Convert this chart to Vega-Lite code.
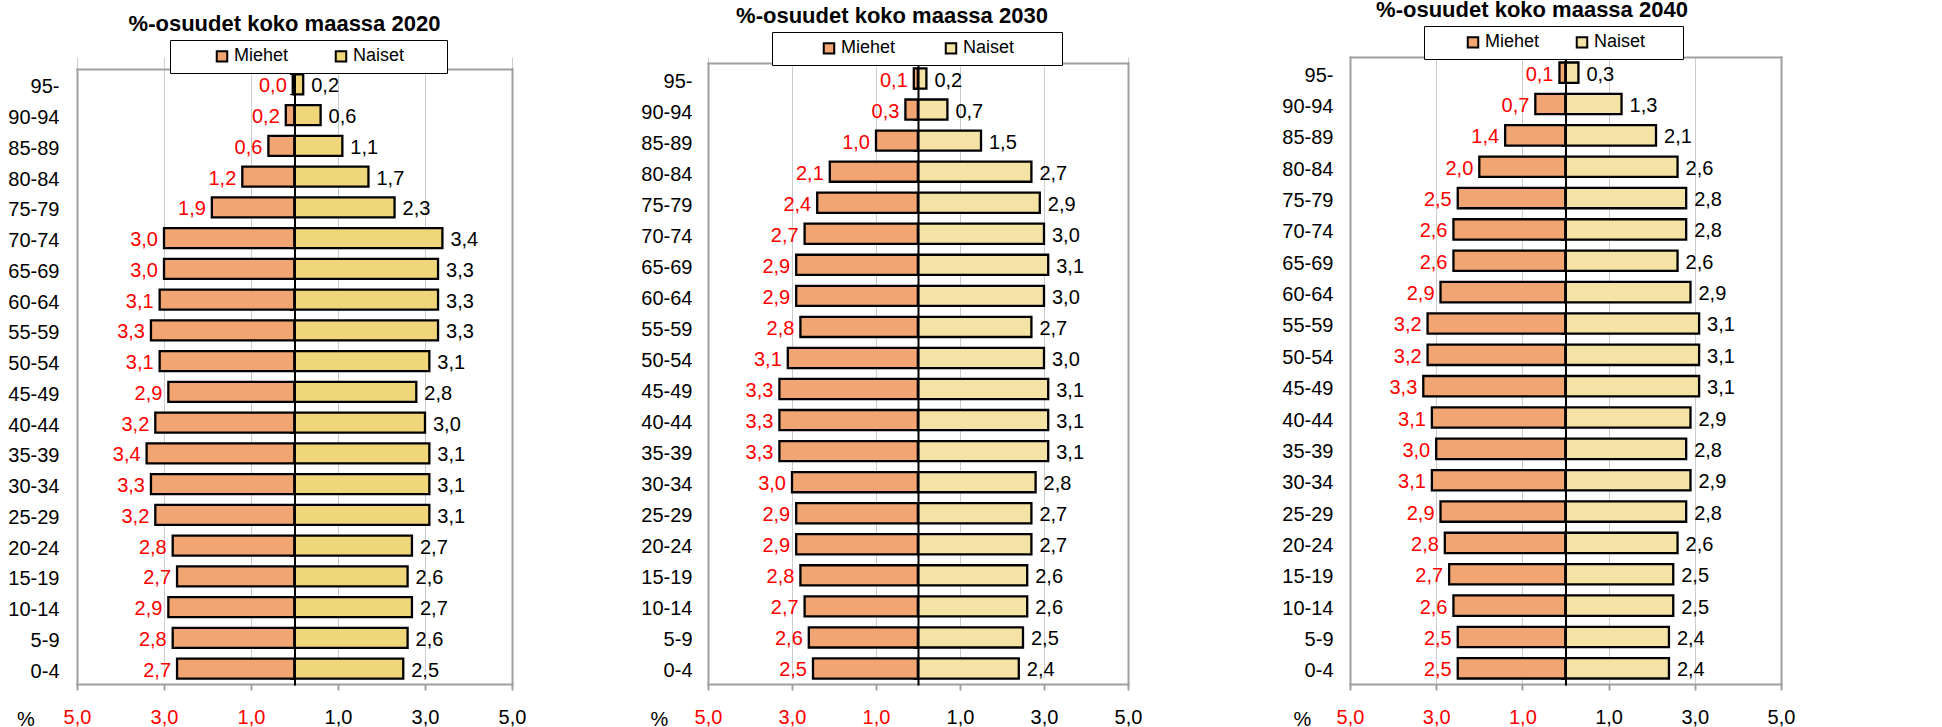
{
  "$schema": "https://vega.github.io/schema/vega-lite/v6.json",
  "padding": {"left": 0, "top": -2, "right": 0, "bottom": 0},
  "background": "white",
  "config": {
    "font": "Liberation Sans",
    "view": {"stroke": null},
    "locale": {"number": {"decimal": ",", "thousands": " ", "grouping": [3], "currency": ["", " €"], "minus": ""}},
    "axisX": {"labelFontSize": 20, "labelPadding": 17, "tickSize": 6, "tickColor": "#a0a0a0", "tickWidth": 2, "domain": true, "domainColor": "#a0a0a0", "domainWidth": 2, "domainCap": "square", "grid": true, "gridColor": "#cccccc", "gridWidth": 1, "titleFontSize": 20, "titleFontWeight": "normal", "titleColor": "black", "titleBaseline": "alphabetic", "titleAlign": "center", "labelFlush": false, "labelOverlap": false},
    "axisY": {"labelFontSize": 20, "labelColor": "black", "ticks": false, "domain": true, "domainColor": "#a0a0a0", "domainWidth": 2, "domainCap": "square", "grid": false, "labelOffset": 3},
    "legend": {"orient": "none", "direction": "horizontal", "labelFontSize": 18, "labelColor": "black", "symbolType": "square", "symbolSize": 110, "symbolStrokeColor": "black", "symbolStrokeWidth": 2, "padding": 7, "strokeColor": "black", "fillColor": "white", "labelOffset": 3, "zindex": 2},
    "title": {"fontSize": 22, "fontWeight": "bold", "color": "black", "anchor": "middle", "frame": "group"}
  },
  "data": {"values": [
    {"v":2020,"ika":"95-","sp":"Miehet","osuus":-0.04},{"v":2020,"ika":"95-","sp":"Naiset","osuus":0.2},
    {"v":2020,"ika":"90-94","sp":"Miehet","osuus":-0.2},{"v":2020,"ika":"90-94","sp":"Naiset","osuus":0.6},
    {"v":2020,"ika":"85-89","sp":"Miehet","osuus":-0.6},{"v":2020,"ika":"85-89","sp":"Naiset","osuus":1.1},
    {"v":2020,"ika":"80-84","sp":"Miehet","osuus":-1.2},{"v":2020,"ika":"80-84","sp":"Naiset","osuus":1.7},
    {"v":2020,"ika":"75-79","sp":"Miehet","osuus":-1.9},{"v":2020,"ika":"75-79","sp":"Naiset","osuus":2.3},
    {"v":2020,"ika":"70-74","sp":"Miehet","osuus":-3.0},{"v":2020,"ika":"70-74","sp":"Naiset","osuus":3.4},
    {"v":2020,"ika":"65-69","sp":"Miehet","osuus":-3.0},{"v":2020,"ika":"65-69","sp":"Naiset","osuus":3.3},
    {"v":2020,"ika":"60-64","sp":"Miehet","osuus":-3.1},{"v":2020,"ika":"60-64","sp":"Naiset","osuus":3.3},
    {"v":2020,"ika":"55-59","sp":"Miehet","osuus":-3.3},{"v":2020,"ika":"55-59","sp":"Naiset","osuus":3.3},
    {"v":2020,"ika":"50-54","sp":"Miehet","osuus":-3.1},{"v":2020,"ika":"50-54","sp":"Naiset","osuus":3.1},
    {"v":2020,"ika":"45-49","sp":"Miehet","osuus":-2.9},{"v":2020,"ika":"45-49","sp":"Naiset","osuus":2.8},
    {"v":2020,"ika":"40-44","sp":"Miehet","osuus":-3.2},{"v":2020,"ika":"40-44","sp":"Naiset","osuus":3.0},
    {"v":2020,"ika":"35-39","sp":"Miehet","osuus":-3.4},{"v":2020,"ika":"35-39","sp":"Naiset","osuus":3.1},
    {"v":2020,"ika":"30-34","sp":"Miehet","osuus":-3.3},{"v":2020,"ika":"30-34","sp":"Naiset","osuus":3.1},
    {"v":2020,"ika":"25-29","sp":"Miehet","osuus":-3.2},{"v":2020,"ika":"25-29","sp":"Naiset","osuus":3.1},
    {"v":2020,"ika":"20-24","sp":"Miehet","osuus":-2.8},{"v":2020,"ika":"20-24","sp":"Naiset","osuus":2.7},
    {"v":2020,"ika":"15-19","sp":"Miehet","osuus":-2.7},{"v":2020,"ika":"15-19","sp":"Naiset","osuus":2.6},
    {"v":2020,"ika":"10-14","sp":"Miehet","osuus":-2.9},{"v":2020,"ika":"10-14","sp":"Naiset","osuus":2.7},
    {"v":2020,"ika":"5-9","sp":"Miehet","osuus":-2.8},{"v":2020,"ika":"5-9","sp":"Naiset","osuus":2.6},
    {"v":2020,"ika":"0-4","sp":"Miehet","osuus":-2.7},{"v":2020,"ika":"0-4","sp":"Naiset","osuus":2.5},
    {"v":2030,"ika":"95-","sp":"Miehet","osuus":-0.1},{"v":2030,"ika":"95-","sp":"Naiset","osuus":0.2},
    {"v":2030,"ika":"90-94","sp":"Miehet","osuus":-0.3},{"v":2030,"ika":"90-94","sp":"Naiset","osuus":0.7},
    {"v":2030,"ika":"85-89","sp":"Miehet","osuus":-1.0},{"v":2030,"ika":"85-89","sp":"Naiset","osuus":1.5},
    {"v":2030,"ika":"80-84","sp":"Miehet","osuus":-2.1},{"v":2030,"ika":"80-84","sp":"Naiset","osuus":2.7},
    {"v":2030,"ika":"75-79","sp":"Miehet","osuus":-2.4},{"v":2030,"ika":"75-79","sp":"Naiset","osuus":2.9},
    {"v":2030,"ika":"70-74","sp":"Miehet","osuus":-2.7},{"v":2030,"ika":"70-74","sp":"Naiset","osuus":3.0},
    {"v":2030,"ika":"65-69","sp":"Miehet","osuus":-2.9},{"v":2030,"ika":"65-69","sp":"Naiset","osuus":3.1},
    {"v":2030,"ika":"60-64","sp":"Miehet","osuus":-2.9},{"v":2030,"ika":"60-64","sp":"Naiset","osuus":3.0},
    {"v":2030,"ika":"55-59","sp":"Miehet","osuus":-2.8},{"v":2030,"ika":"55-59","sp":"Naiset","osuus":2.7},
    {"v":2030,"ika":"50-54","sp":"Miehet","osuus":-3.1},{"v":2030,"ika":"50-54","sp":"Naiset","osuus":3.0},
    {"v":2030,"ika":"45-49","sp":"Miehet","osuus":-3.3},{"v":2030,"ika":"45-49","sp":"Naiset","osuus":3.1},
    {"v":2030,"ika":"40-44","sp":"Miehet","osuus":-3.3},{"v":2030,"ika":"40-44","sp":"Naiset","osuus":3.1},
    {"v":2030,"ika":"35-39","sp":"Miehet","osuus":-3.3},{"v":2030,"ika":"35-39","sp":"Naiset","osuus":3.1},
    {"v":2030,"ika":"30-34","sp":"Miehet","osuus":-3.0},{"v":2030,"ika":"30-34","sp":"Naiset","osuus":2.8},
    {"v":2030,"ika":"25-29","sp":"Miehet","osuus":-2.9},{"v":2030,"ika":"25-29","sp":"Naiset","osuus":2.7},
    {"v":2030,"ika":"20-24","sp":"Miehet","osuus":-2.9},{"v":2030,"ika":"20-24","sp":"Naiset","osuus":2.7},
    {"v":2030,"ika":"15-19","sp":"Miehet","osuus":-2.8},{"v":2030,"ika":"15-19","sp":"Naiset","osuus":2.6},
    {"v":2030,"ika":"10-14","sp":"Miehet","osuus":-2.7},{"v":2030,"ika":"10-14","sp":"Naiset","osuus":2.6},
    {"v":2030,"ika":"5-9","sp":"Miehet","osuus":-2.6},{"v":2030,"ika":"5-9","sp":"Naiset","osuus":2.5},
    {"v":2030,"ika":"0-4","sp":"Miehet","osuus":-2.5},{"v":2030,"ika":"0-4","sp":"Naiset","osuus":2.4},
    {"v":2040,"ika":"95-","sp":"Miehet","osuus":-0.14},{"v":2040,"ika":"95-","sp":"Naiset","osuus":0.3},
    {"v":2040,"ika":"90-94","sp":"Miehet","osuus":-0.7},{"v":2040,"ika":"90-94","sp":"Naiset","osuus":1.3},
    {"v":2040,"ika":"85-89","sp":"Miehet","osuus":-1.4},{"v":2040,"ika":"85-89","sp":"Naiset","osuus":2.1},
    {"v":2040,"ika":"80-84","sp":"Miehet","osuus":-2.0},{"v":2040,"ika":"80-84","sp":"Naiset","osuus":2.6},
    {"v":2040,"ika":"75-79","sp":"Miehet","osuus":-2.5},{"v":2040,"ika":"75-79","sp":"Naiset","osuus":2.8},
    {"v":2040,"ika":"70-74","sp":"Miehet","osuus":-2.6},{"v":2040,"ika":"70-74","sp":"Naiset","osuus":2.8},
    {"v":2040,"ika":"65-69","sp":"Miehet","osuus":-2.6},{"v":2040,"ika":"65-69","sp":"Naiset","osuus":2.6},
    {"v":2040,"ika":"60-64","sp":"Miehet","osuus":-2.9},{"v":2040,"ika":"60-64","sp":"Naiset","osuus":2.9},
    {"v":2040,"ika":"55-59","sp":"Miehet","osuus":-3.2},{"v":2040,"ika":"55-59","sp":"Naiset","osuus":3.1},
    {"v":2040,"ika":"50-54","sp":"Miehet","osuus":-3.2},{"v":2040,"ika":"50-54","sp":"Naiset","osuus":3.1},
    {"v":2040,"ika":"45-49","sp":"Miehet","osuus":-3.3},{"v":2040,"ika":"45-49","sp":"Naiset","osuus":3.1},
    {"v":2040,"ika":"40-44","sp":"Miehet","osuus":-3.1},{"v":2040,"ika":"40-44","sp":"Naiset","osuus":2.9},
    {"v":2040,"ika":"35-39","sp":"Miehet","osuus":-3.0},{"v":2040,"ika":"35-39","sp":"Naiset","osuus":2.8},
    {"v":2040,"ika":"30-34","sp":"Miehet","osuus":-3.1},{"v":2040,"ika":"30-34","sp":"Naiset","osuus":2.9},
    {"v":2040,"ika":"25-29","sp":"Miehet","osuus":-2.9},{"v":2040,"ika":"25-29","sp":"Naiset","osuus":2.8},
    {"v":2040,"ika":"20-24","sp":"Miehet","osuus":-2.8},{"v":2040,"ika":"20-24","sp":"Naiset","osuus":2.6},
    {"v":2040,"ika":"15-19","sp":"Miehet","osuus":-2.7},{"v":2040,"ika":"15-19","sp":"Naiset","osuus":2.5},
    {"v":2040,"ika":"10-14","sp":"Miehet","osuus":-2.6},{"v":2040,"ika":"10-14","sp":"Naiset","osuus":2.5},
    {"v":2040,"ika":"5-9","sp":"Miehet","osuus":-2.5},{"v":2040,"ika":"5-9","sp":"Naiset","osuus":2.4},
    {"v":2040,"ika":"0-4","sp":"Miehet","osuus":-2.5},{"v":2040,"ika":"0-4","sp":"Naiset","osuus":2.4}
  ]},
  "spacing": 0,
  "resolve": {"scale": {"color": "independent", "x": "independent", "y": "independent"}, "legend": {"color": "independent"}},
  "hconcat": [
    {
      "width": 435, "height": 627,
      "title": {"text": "%-osuudet koko maassa 2020", "dx": -10, "offset": 4},
      "transform": [{"filter": "datum.v == 2020"}],
      "layer": [
        {"mark": {"type": "bar", "stroke": "black", "strokeWidth": 2.3},
         "encoding": {
           "x": {"field": "osuus", "type": "quantitative", "scale": {"domain": [-5, 5], "nice": false, "zero": false},
                 "axis": {"values": [-5, -3, -1, 1, 3, 5], "format": ".1f", "title": "%", "titleX": -51.5, "titleY": 41,
                          "labelColor": {"condition": {"test": "datum.value < 0", "value": "#ff0000"}, "value": "#000000"}}},
           "y": {"field": "ika", "type": "nominal", "sort": ["95-","90-94","85-89","80-84","75-79","70-74","65-69","60-64","55-59","50-54","45-49","40-44","35-39","30-34","25-29","20-24","15-19","10-14","5-9","0-4"],
                 "scale": {"range": [12, 627], "paddingInner": 0.35, "paddingOuter": 0.175},
                 "axis": {"title": null, "labelPadding": 18, "minExtent": 77, "maxExtent": 77}},
           "color": {"field": "sp", "type": "nominal", "scale": {"domain": ["Miehet", "Naiset"], "range": ["#F0A572", "#F0D67A"]},
                     "legend": {"title": null, "orient": "none", "legendX": 93, "legendY": -17, "symbolOffset": 36, "columnPadding": 7,
                                "labelExpr": "datum.label == 'Naiset' ? 'Naiset       \u200b' : datum.label"}}
         }},
        {"transform": [{"filter": "datum.sp == 'Miehet'"}],
         "mark": {"type": "text", "align": "right", "baseline": "middle", "dx": -6, "dy": 2, "fontSize": 20, "color": "#ff0000"},
         "encoding": {
           "x": {"field": "osuus", "type": "quantitative",
                 "axis": {"orient": "top", "offset": -12, "labels": false, "ticks": false, "grid": false, "title": null}},
           "y": {"field": "ika", "type": "nominal", "sort": ["95-","90-94","85-89","80-84","75-79","70-74","65-69","60-64","55-59","50-54","45-49","40-44","35-39","30-34","25-29","20-24","15-19","10-14","5-9","0-4"],
                 "axis": {"title": null, "orient": "left", "offset": -217.5, "labels": false, "ticks": true, "tickBand": "extent", "tickSize": 5, "tickColor": "black", "tickWidth": 1, "domainColor": "black", "domainWidth": 2, "zindex": 1, "minExtent": 0, "maxExtent": 0}},
           "text": {"field": "osuus", "type": "quantitative", "format": ".1f"}
         }},
        {"transform": [{"filter": "datum.sp == 'Naiset'"}],
         "mark": {"type": "text", "align": "left", "baseline": "middle", "dx": 8, "dy": 2, "fontSize": 20, "color": "black"},
         "encoding": {
           "x": {"field": "osuus", "type": "quantitative", "axis": null},
           "y": {"field": "ika", "type": "nominal", "sort": ["95-","90-94","85-89","80-84","75-79","70-74","65-69","60-64","55-59","50-54","45-49","40-44","35-39","30-34","25-29","20-24","15-19","10-14","5-9","0-4"],
                 "axis": {"title": null, "orient": "right", "labels": false, "ticks": false, "minExtent": 0, "maxExtent": 0}},
           "text": {"field": "osuus", "type": "quantitative", "format": ".1f"}
         }}
      ],
      "resolve": {"axis": {"x": "independent", "y": "independent"}}
    },
    {
      "width": 420, "height": 627,
      "title": {"text": "%-osuudet koko maassa 2030", "dx": -26, "offset": 4},
      "transform": [{"filter": "datum.v == 2030"}],
      "layer": [
        {"mark": {"type": "bar", "stroke": "black", "strokeWidth": 2.3},
         "encoding": {
           "x": {"field": "osuus", "type": "quantitative", "scale": {"domain": [-5, 5], "nice": false, "zero": false},
                 "axis": {"values": [-5, -3, -1, 1, 3, 5], "format": ".1f", "title": "%", "titleX": -49, "titleY": 41,
                          "labelColor": {"condition": {"test": "datum.value < 0", "value": "#ff0000"}, "value": "#000000"}}},
           "y": {"field": "ika", "type": "nominal", "sort": ["95-","90-94","85-89","80-84","75-79","70-74","65-69","60-64","55-59","50-54","45-49","40-44","35-39","30-34","25-29","20-24","15-19","10-14","5-9","0-4"],
                 "scale": {"range": [6, 627], "paddingInner": 0.35, "paddingOuter": 0.175},
                 "axis": {"title": null, "labelPadding": 16, "minExtent": 182, "maxExtent": 182}},
           "color": {"field": "sp", "type": "nominal", "scale": {"domain": ["Miehet", "Naiset"], "range": ["#F0A572", "#F5E3A6"]},
                     "legend": {"title": null, "orient": "none", "legendX": 64, "legendY": -25, "symbolOffset": 41, "columnPadding": 5,
                                "labelExpr": "datum.label == 'Naiset' ? 'Naiset        \u200b' : datum.label"}}
         }},
        {"transform": [{"filter": "datum.sp == 'Miehet'"}],
         "mark": {"type": "text", "align": "right", "baseline": "middle", "dx": -6, "dy": 2, "fontSize": 20, "color": "#ff0000"},
         "encoding": {
           "x": {"field": "osuus", "type": "quantitative",
                 "axis": {"orient": "top", "offset": -6, "labels": false, "ticks": false, "grid": false, "title": null}},
           "y": {"field": "ika", "type": "nominal", "sort": ["95-","90-94","85-89","80-84","75-79","70-74","65-69","60-64","55-59","50-54","45-49","40-44","35-39","30-34","25-29","20-24","15-19","10-14","5-9","0-4"],
                 "axis": {"title": null, "orient": "left", "offset": -210, "labels": false, "ticks": true, "tickBand": "extent", "tickSize": 5, "tickColor": "black", "tickWidth": 1, "domainColor": "black", "domainWidth": 2, "zindex": 1, "minExtent": 0, "maxExtent": 0}},
           "text": {"field": "osuus", "type": "quantitative", "format": ".1f"}
         }},
        {"transform": [{"filter": "datum.sp == 'Naiset'"}],
         "mark": {"type": "text", "align": "left", "baseline": "middle", "dx": 8, "dy": 2, "fontSize": 20, "color": "black"},
         "encoding": {
           "x": {"field": "osuus", "type": "quantitative", "axis": null},
           "y": {"field": "ika", "type": "nominal", "sort": ["95-","90-94","85-89","80-84","75-79","70-74","65-69","60-64","55-59","50-54","45-49","40-44","35-39","30-34","25-29","20-24","15-19","10-14","5-9","0-4"],
                 "axis": {"title": null, "orient": "right", "labels": false, "ticks": false, "minExtent": 0, "maxExtent": 0}},
           "text": {"field": "osuus", "type": "quantitative", "format": ".1f"}
         }}
      ],
      "resolve": {"axis": {"x": "independent", "y": "independent"}}
    },
    {
      "width": 431, "height": 627,
      "title": {"text": "%-osuudet koko maassa 2040", "dx": -33.5, "offset": 4},
      "transform": [{"filter": "datum.v == 2040"}],
      "layer": [
        {"mark": {"type": "bar", "stroke": "black", "strokeWidth": 2.3},
         "encoding": {
           "x": {"field": "osuus", "type": "quantitative", "scale": {"domain": [-5, 5], "nice": false, "zero": false},
                 "axis": {"values": [-5, -3, -1, 1, 3, 5], "format": ".1f", "title": "%", "titleX": -48, "titleY": 41,
                          "labelColor": {"condition": {"test": "datum.value < 0", "value": "#ff0000"}, "value": "#000000"}}},
           "y": {"field": "ika", "type": "nominal", "sort": ["95-","90-94","85-89","80-84","75-79","70-74","65-69","60-64","55-59","50-54","45-49","40-44","35-39","30-34","25-29","20-24","15-19","10-14","5-9","0-4"],
                 "scale": {"range": [0, 627], "paddingInner": 0.35, "paddingOuter": 0.175},
                 "axis": {"title": null, "labelPadding": 17, "minExtent": 208, "maxExtent": 208}},
           "color": {"field": "sp", "type": "nominal", "scale": {"domain": ["Miehet", "Naiset"], "range": ["#F0A572", "#F5E3A6"]},
                     "legend": {"title": null, "orient": "none", "legendX": 74, "legendY": -31, "symbolOffset": 33, "columnPadding": 0,
                                "labelExpr": "datum.label == 'Naiset' ? 'Naiset      \u200b' : datum.label"}}
         }},
        {"transform": [{"filter": "datum.sp == 'Miehet'"}],
         "mark": {"type": "text", "align": "right", "baseline": "middle", "dx": -6, "dy": 2, "fontSize": 20, "color": "#ff0000"},
         "encoding": {
           "x": {"field": "osuus", "type": "quantitative",
                 "axis": {"orient": "top", "offset": 0, "labels": false, "ticks": false, "grid": false, "title": null}},
           "y": {"field": "ika", "type": "nominal", "sort": ["95-","90-94","85-89","80-84","75-79","70-74","65-69","60-64","55-59","50-54","45-49","40-44","35-39","30-34","25-29","20-24","15-19","10-14","5-9","0-4"],
                 "axis": {"title": null, "orient": "left", "offset": -215.5, "labels": false, "ticks": true, "tickBand": "extent", "tickSize": 5, "tickColor": "black", "tickWidth": 1, "domainColor": "black", "domainWidth": 2, "zindex": 1, "minExtent": 0, "maxExtent": 0}},
           "text": {"field": "osuus", "type": "quantitative", "format": ".1f"}
         }},
        {"transform": [{"filter": "datum.sp == 'Naiset'"}],
         "mark": {"type": "text", "align": "left", "baseline": "middle", "dx": 8, "dy": 2, "fontSize": 20, "color": "black"},
         "encoding": {
           "x": {"field": "osuus", "type": "quantitative", "axis": null},
           "y": {"field": "ika", "type": "nominal", "sort": ["95-","90-94","85-89","80-84","75-79","70-74","65-69","60-64","55-59","50-54","45-49","40-44","35-39","30-34","25-29","20-24","15-19","10-14","5-9","0-4"],
                 "axis": {"title": null, "orient": "right", "labels": false, "ticks": false, "minExtent": 0, "maxExtent": 0}},
           "text": {"field": "osuus", "type": "quantitative", "format": ".1f"}
         }}
      ],
      "resolve": {"axis": {"x": "independent", "y": "independent"}}
    }
  ]
}
